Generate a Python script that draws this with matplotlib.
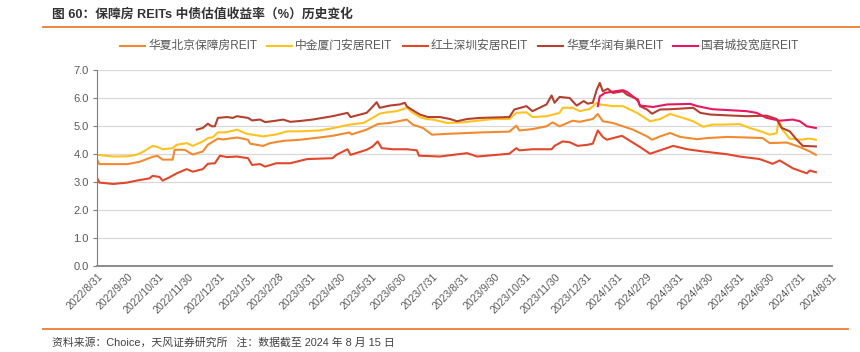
import matplotlib
matplotlib.use("Agg")
import matplotlib.pyplot as plt
import pandas as pd

plt.rcParams['font.family'] = ['Liberation Sans', 'Noto Sans CJK SC', 'DejaVu Sans']

# 华夏北京保障房REIT
bj_dates = ['2022-08-31', '2022-09-02', '2022-09-30', '2022-10-12', '2022-10-25', '2022-10-30',
            '2022-11-04', '2022-11-14', '2022-11-16', '2022-11-26', '2022-12-04', '2022-12-14',
            '2022-12-19', '2022-12-29', '2023-01-03', '2023-01-17', '2023-01-28', '2023-01-30',
            '2023-02-12', '2023-02-19', '2023-03-04', '2023-03-21', '2023-04-09', '2023-04-22',
            '2023-05-09', '2023-05-11', '2023-05-26', '2023-06-06', '2023-06-18', '2023-07-05',
            '2023-07-11', '2023-07-21', '2023-07-30', '2023-08-14', '2023-09-03', '2023-09-16',
            '2023-10-15', '2023-10-22', '2023-10-25', '2023-11-07', '2023-11-21', '2023-11-27',
            '2023-12-04', '2023-12-17', '2023-12-24', '2024-01-06', '2024-01-11', '2024-01-16',
            '2024-01-26', '2024-02-05', '2024-02-15', '2024-02-29', '2024-03-05', '2024-03-13',
            '2024-03-23', '2024-04-02', '2024-04-19', '2024-04-29', '2024-05-19', '2024-06-07',
            '2024-06-23', '2024-06-30', '2024-07-17', '2024-07-30', '2024-08-09', '2024-08-15']
bj_vals = [3.78, 3.64, 3.64, 3.72, 3.90, 3.93,
           3.80, 3.80, 4.15, 4.15, 3.98, 4.09,
           4.33, 4.55, 4.52, 4.59, 4.51, 4.37,
           4.29, 4.39, 4.47, 4.51, 4.59, 4.65,
           4.77, 4.70, 4.87, 5.07, 5.11, 5.23,
           5.05, 4.93, 4.69, 4.72, 4.75, 4.77,
           4.80, 5.01, 4.84, 4.89, 4.99, 5.13,
           4.99, 5.19, 5.15, 5.25, 5.43, 5.17,
           5.11, 4.99, 4.87, 4.63, 4.51, 4.63,
           4.75, 4.61, 4.53, 4.57, 4.61, 4.59,
           4.57, 4.39, 4.41, 4.25, 4.09, 3.97]

# 中金厦门安居REIT
xm_dates = ['2022-08-31', '2022-09-16', '2022-09-30', '2022-10-09', '2022-10-16', '2022-10-25',
            '2022-10-30', '2022-11-04', '2022-11-14', '2022-11-18', '2022-11-28', '2022-12-04',
            '2022-12-14', '2022-12-19', '2022-12-24', '2022-12-29', '2023-01-07', '2023-01-17',
            '2023-01-27', '2023-02-12', '2023-02-25', '2023-03-08', '2023-03-21', '2023-04-09',
            '2023-04-22', '2023-05-09', '2023-05-23', '2023-05-29', '2023-06-08', '2023-06-15',
            '2023-06-25', '2023-07-05', '2023-07-11', '2023-07-18', '2023-07-24', '2023-07-31',
            '2023-08-14', '2023-08-30', '2023-09-16', '2023-09-29', '2023-10-15', '2023-10-22',
            '2023-11-01', '2023-11-07', '2023-11-21', '2023-12-04', '2023-12-07', '2023-12-17',
            '2023-12-24', '2024-01-03', '2024-01-10', '2024-01-13', '2024-01-26', '2024-02-05',
            '2024-02-19', '2024-03-03', '2024-03-13', '2024-03-23', '2024-04-02', '2024-04-15',
            '2024-04-25', '2024-05-04', '2024-05-14', '2024-05-31', '2024-06-10', '2024-06-23',
            '2024-06-30', '2024-07-07', '2024-07-09', '2024-07-13', '2024-07-20', '2024-07-30',
            '2024-08-09', '2024-08-15']
xm_vals = [3.97, 3.91, 3.92, 3.97, 4.09, 4.29,
           4.25, 4.17, 4.21, 4.33, 4.39, 4.29,
           4.45, 4.57, 4.60, 4.77, 4.78, 4.87,
           4.72, 4.63, 4.70, 4.81, 4.81, 4.84,
           4.92, 5.05, 5.11, 5.23, 5.44, 5.49,
           5.53, 5.65, 5.47, 5.32, 5.25, 5.23,
           5.11, 5.13, 5.20, 5.25, 5.25, 5.47,
           5.49, 5.32, 5.35, 5.47, 5.65, 5.65,
           5.53, 5.61, 5.83, 5.77, 5.71, 5.71,
           5.47, 5.17, 5.25, 5.43, 5.32, 5.17,
           4.97, 5.05, 5.05, 5.07, 4.93, 4.79,
           4.69, 4.74, 5.20, 4.85, 4.55, 4.51,
           4.55, 4.51]

# 红土深圳安居REIT
sz_dates = ['2022-08-31', '2022-09-02', '2022-09-16', '2022-09-30', '2022-10-09', '2022-10-22',
            '2022-10-25', '2022-11-01', '2022-11-04', '2022-11-11', '2022-11-18', '2022-11-28',
            '2022-12-04', '2022-12-14', '2022-12-19', '2022-12-26', '2022-12-31', '2023-01-07',
            '2023-01-17', '2023-01-28', '2023-02-01', '2023-02-09', '2023-02-14', '2023-02-25',
            '2023-03-11', '2023-03-21', '2023-03-28', '2023-04-22', '2023-04-26', '2023-05-07',
            '2023-05-10', '2023-05-26', '2023-06-01', '2023-06-06', '2023-06-10', '2023-06-21',
            '2023-07-05', '2023-07-15', '2023-07-17', '2023-08-07', '2023-08-20', '2023-09-03',
            '2023-09-13', '2023-10-15', '2023-10-22', '2023-10-25', '2023-11-07', '2023-11-26',
            '2023-11-29', '2023-12-07', '2023-12-14', '2023-12-22', '2024-01-01', '2024-01-06',
            '2024-01-11', '2024-01-16', '2024-01-20', '2024-02-04', '2024-02-22', '2024-03-03',
            '2024-03-13', '2024-03-26', '2024-04-09', '2024-04-25', '2024-05-19', '2024-05-31',
            '2024-06-20', '2024-07-03', '2024-07-10', '2024-07-23', '2024-08-06', '2024-08-09',
            '2024-08-15']
sz_vals = [3.13, 2.98, 2.93, 2.98, 3.05, 3.13,
           3.22, 3.18, 3.05, 3.17, 3.31, 3.46,
           3.37, 3.46, 3.65, 3.67, 3.94, 3.89,
           3.91, 3.85, 3.61, 3.64, 3.55, 3.67,
           3.67, 3.76, 3.82, 3.85, 3.97, 4.17,
           3.97, 4.15, 4.27, 4.45, 4.21, 4.17,
           4.17, 4.13, 3.94, 3.91, 3.97, 4.03,
           3.91, 4.01, 4.21, 4.13, 4.17, 4.17,
           4.29, 4.45, 4.42, 4.29, 4.33, 4.37,
           4.84, 4.61, 4.51, 4.65, 4.25, 4.01,
           4.13, 4.29, 4.17, 4.09, 3.99, 3.91,
           3.82, 3.65, 3.77, 3.49, 3.31, 3.41,
           3.35]

# 华夏华润有巢REIT
hr_dates = ['2022-12-08', '2022-12-14', '2022-12-19', '2022-12-23', '2022-12-26', '2022-12-29',
            '2023-01-07', '2023-01-13', '2023-01-17', '2023-01-28', '2023-02-01', '2023-02-09',
            '2023-02-14', '2023-02-25', '2023-03-04', '2023-03-11', '2023-03-21', '2023-04-02',
            '2023-04-12', '2023-04-22', '2023-05-07', '2023-05-10', '2023-05-26', '2023-05-31',
            '2023-06-05', '2023-06-08', '2023-06-18', '2023-06-28', '2023-07-03', '2023-07-05',
            '2023-07-11', '2023-07-18', '2023-07-26', '2023-08-07', '2023-08-17', '2023-08-24',
            '2023-09-03', '2023-09-16', '2023-10-15', '2023-10-20', '2023-11-01', '2023-11-07',
            '2023-11-21', '2023-11-26', '2023-11-29', '2023-12-04', '2023-12-14', '2023-12-21',
            '2023-12-28', '2024-01-01', '2024-01-06', '2024-01-10', '2024-01-13', '2024-01-16',
            '2024-01-21', '2024-01-26', '2024-02-05', '2024-02-09', '2024-02-20', '2024-02-22',
            '2024-02-29', '2024-03-05', '2024-03-13', '2024-03-23', '2024-04-02', '2024-04-15',
            '2024-04-22', '2024-05-02', '2024-05-19', '2024-06-07', '2024-06-27', '2024-07-07',
            '2024-07-12', '2024-07-20', '2024-07-27', '2024-08-02', '2024-08-15']
hr_vals = [4.87, 4.93, 5.08, 4.99, 4.99, 5.29,
           5.32, 5.29, 5.35, 5.29, 5.20, 5.23,
           5.14, 5.19, 5.23, 5.15, 5.18, 5.23,
           5.29, 5.35, 5.47, 5.32, 5.47, 5.65,
           5.85, 5.65, 5.73, 5.77, 5.83, 5.70,
           5.56, 5.41, 5.32, 5.32, 5.25, 5.17,
           5.25, 5.29, 5.32, 5.59, 5.71, 5.53,
           5.77, 6.09, 5.83, 6.04, 6.00, 5.73,
           5.89, 5.80, 5.83, 6.30, 6.54, 6.24,
           6.33, 6.18, 6.24, 6.12, 5.95, 5.71,
           5.59, 5.44, 5.59, 5.60, 5.62, 5.65,
           5.47, 5.41, 5.38, 5.35, 5.37, 5.25,
           4.93, 4.81, 4.51, 4.29, 4.27]

# 国君城投宽庭REIT
gj_dates = ['2024-01-11', '2024-01-13', '2024-01-18', '2024-01-28', '2024-02-05', '2024-02-09',
            '2024-02-17', '2024-02-20', '2024-02-22', '2024-03-06', '2024-03-20', '2024-04-12',
            '2024-04-19', '2024-05-04', '2024-05-19', '2024-06-07', '2024-06-17', '2024-06-27',
            '2024-07-10', '2024-07-23', '2024-07-30', '2024-08-06', '2024-08-15']
gj_vals = [5.71, 6.06, 6.18, 6.24, 6.28, 6.22,
           6.00, 5.89, 5.73, 5.68, 5.77, 5.79,
           5.71, 5.60, 5.57, 5.53, 5.47, 5.29,
           5.19, 5.23, 5.17, 4.99, 4.93]

tick_labels = ['2022/8/31', '2022/9/30', '2022/10/31', '2022/11/30', '2022/12/31', '2023/1/31',
               '2023/2/28', '2023/3/31', '2023/4/30', '2023/5/31', '2023/6/30', '2023/7/31',
               '2023/8/31', '2023/9/30', '2023/10/31', '2023/11/30', '2023/12/31', '2024/1/31',
               '2024/2/29', '2024/3/31', '2024/4/30', '2024/5/31', '2024/6/30', '2024/7/31',
               '2024/8/31']

series = [
    ('华夏北京保障房REIT', bj_dates, bj_vals, '#F28A30'),
    ('中金厦门安居REIT', xm_dates, xm_vals, '#FFC21F'),
    ('红土深圳安居REIT', sz_dates, sz_vals, '#E2472A'),
    ('华夏华润有巢REIT', hr_dates, hr_vals, '#B4402F'),
    ('国君城投宽庭REIT', gj_dates, gj_vals, '#E8185E'),
]

W, H = 860, 352
fig = plt.figure(figsize=(W / 100, H / 100), dpi=100)
ax = fig.add_axes([0.1131, 0.2443, 0.8543, 0.5568])

for name, d, v, c in series:
    ax.plot(pd.to_datetime(d), v, color=c, lw=1.5, label=name)

ticks = pd.to_datetime(tick_labels, format='%Y/%m/%d')
ax.set_xlim(ticks[0], ticks[-1])
ax.set_xticks(ticks)
ax.set_xticklabels(tick_labels, rotation=45, ha='right', rotation_mode='anchor',
                   fontsize=7.5, color='#595959')
ax.tick_params(axis='x', length=0, pad=4)

ax.set_ylim(0, 7)
ax.set_yticks([0, 1, 2, 3, 4, 5, 6, 7])
ax.set_yticklabels(['%.1f' % y for y in range(8)], fontsize=8, color='#595959')
ax.tick_params(axis='y', length=3, color='#7f7f7f', pad=3)
ax.grid(axis='y', color='#D9D9D9', lw=0.9)
ax.set_axisbelow(True)

for s in ['top', 'right']:
    ax.spines[s].set_visible(False)
ax.spines['left'].set_color('#7f7f7f')
ax.spines['bottom'].set_color('#8c8c8c')
ax.spines['bottom'].set_linewidth(1.4)

# legend drawn by hand so the entries sit where the original puts them
leg_x = [120, 267, 403, 538, 673]
leg_y = 1 - 46 / H
for (name, d, v, c), x0 in zip(series, leg_x):
    fig.add_artist(plt.Line2D([x0 / W, (x0 + 25) / W], [leg_y, leg_y], color=c, lw=1.5))
    fig.text((x0 + 28) / W, leg_y, name, fontsize=8.5, color='#595959', va='center')

fig.text(52 / W, 1 - 14 / H, '图 60：保障房 REITs 中债估值收益率（%）历史变化', fontsize=9.2,
         fontweight='bold', color='#333333', va='center')
fig.add_artist(plt.Line2D([43 / W, 1.0], [1 - 27 / H, 1 - 27 / H], color='#ED7D31', lw=1.3))
fig.add_artist(plt.Line2D([43 / W, 848 / W], [1 - 329 / H, 1 - 329 / H], color='#ED7D31', lw=1.3))
fig.text(52 / W, 1 - 342 / H, '资料来源：Choice，天风证券研究所   注：数据截至 2024 年 8 月 15 日',
         fontsize=7.8, color='#404040', va='center')

fig.savefig('out.png', dpi=100)
